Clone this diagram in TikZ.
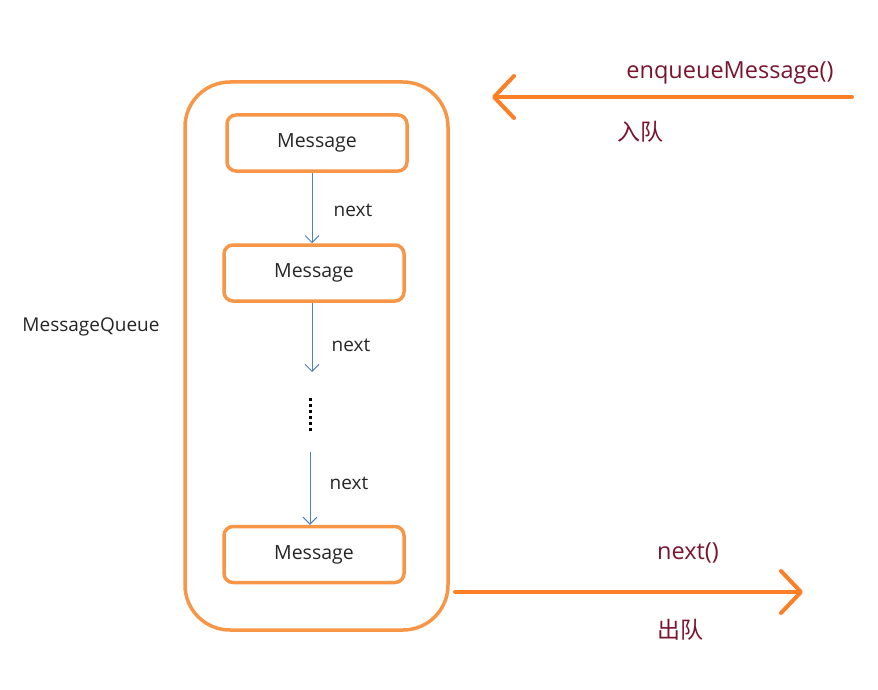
\documentclass[tikz,border=0pt]{standalone}
\usepackage{fontspec}
\setmainfont{Open Sans}
\newfontfamily\cjk{Noto Sans CJK SC}
\usetikzlibrary{arrows.meta}
\definecolor{boxorange}{HTML}{F79646}
\definecolor{arroworange}{HTML}{FF7F27}
\definecolor{linkblue}{HTML}{4F81BD}
\definecolor{labelred}{HTML}{7A1530}
\definecolor{txt}{HTML}{262626}
\tikzset{
  msgbox/.style={draw=boxorange, line width=3.5pt, rounded corners=9pt, minimum width=180pt, minimum height=56pt, inner sep=0pt, font=\fontsize{19.5}{22}\selectfont, text=txt},
  link/.style={draw=linkblue, line width=1pt, -{Straight Barb[length=7pt,width=14pt,line width=1pt]}},
  linklabel/.style={font=\fontsize{19}{22}\selectfont, text=txt},
  flow/.style={draw=arroworange, line width=4pt, line cap=round, -{Straight Barb[length=20pt,width=42pt,line width=4pt,round]}},
  flowlabel/.style={font=\fontsize{23.5}{26}\selectfont, text=labelred},
  cjklabel/.style={font=\cjk\fontsize{23}{26}\selectfont, text=labelred},
}
\begin{document}
\begin{tikzpicture}[x=1pt,y=-1pt]
\useasboundingbox (0,0) rectangle (878,690);
% outer queue container
\draw[draw=boxorange, line width=3.5pt, rounded corners=45pt] (185,82) rectangle (448,630);
\node[msgbox] (m1) at (317,143) {Message};
\node[msgbox] (m2) at (314,273) {Message};
\node[msgbox] (m3) at (314,554.5) {Message};
\coordinate (d1) at (312,372);
\coordinate (dt) at (310,398);
\coordinate (db) at (310,432);
\coordinate (d2) at (310,452);
\draw[link] (m1.south -| 312,0) -- (m2.north -| 312,0);
\draw[link] (m2.south -| 312,0) -- (d1);
\draw[line width=3pt, dash pattern=on 3pt off 3pt] (dt) -- (db);
\draw[link] (d2) -- (m3.north -| 310,0);
\node[linklabel] (n1) at (353,210) {next};
\node[linklabel] (n2) at (351,345) {next};
\node[linklabel] (n3) at (349,483) {next};
\node[font=\fontsize{19}{22}\selectfont, text=txt] (mq) at (91,327) {MessageQueue};
% enqueue arrow
\coordinate (es) at (852,97);
\coordinate (ee) at (492,97);
\draw[flow] (es) -- (ee);
\node[flowlabel] (eq) at (730,73) {enqueueMessage()};
\node[cjklabel] (ru) at (640,132) {入队};
% dequeue arrow
\coordinate (ds) at (455,592);
\coordinate (de) at (803,592);
\draw[flow] (ds) -- (de);
\node[flowlabel] (nx) at (688,553) {next()};
\node[cjklabel] (chu) at (680,630) {出队};
\end{tikzpicture}
\end{document}
